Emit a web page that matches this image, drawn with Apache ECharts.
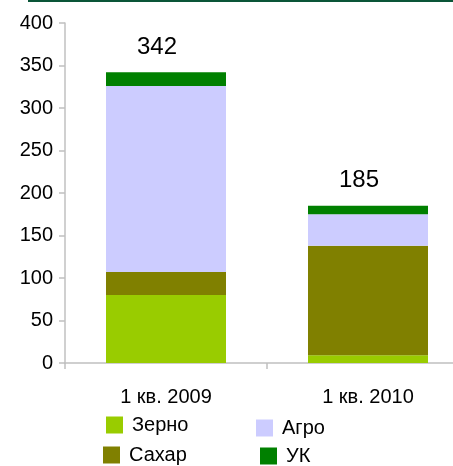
<!DOCTYPE html>
<html>
<head>
<meta charset="utf-8">
<script src="https://cdn.jsdelivr.net/npm/echarts@6/dist/echarts.min.js"></script>
<style>
  html, body { margin: 0; padding: 0; background: #fff; }
  #chart { width: 453px; height: 466px; }
</style>
</head>
<body>
<div id="chart"></div>
<script>
  // data
  var categories = ['1 кв. 2009', '1 кв. 2010']
  var zerno = [80, 9]
  var sakhar = [27, 129]
  var agro = [219, 37]
  var uk = [16, 10]
  var totals = [342, 185]

  var font = 'Liberation Sans, Arial, sans-serif'
  var chart = echarts.init(document.getElementById('chart'))

  function bar(name, data, color) {
    return {
      name: name,
      type: 'bar',
      stack: 'total',
      barWidth: 120,
      itemStyle: { color: color },
      data: data
    }
  }

  // one legend per entry, laid out as in the picture (2 x 2)
  function legendItem(name, left, top) {
    return {
      data: [name],
      icon: 'rect',
      left: left,
      top: top,
      itemWidth: 17,
      itemHeight: 17,
      itemGap: 0,
      padding: 0,
      textStyle: { fontSize: 20, color: '#000', fontFamily: font, padding: [0, 0, 0, 4] }
    }
  }

  var ukSeries = bar('УК', uk, '#008000')
  ukSeries.label = {
    show: true,
    position: 'top',
    offset: [-9, -8],
    fontFamily: font,
    fontSize: 24,
    color: '#000',
    formatter: function (p) { return totals[p.dataIndex] }
  }

  chart.setOption({
    animation: false,
    textStyle: { fontFamily: font },
    graphic: [{
      type: 'rect',
      shape: { x: 28, y: 0, width: 425, height: 2 },
      style: { fill: '#0a5538' }
    }],
    grid: {
      left: 65,
      top: 23,
      width: 404,
      height: 340,
      outerBoundsMode: 'none'
    },
    legend: [
      legendItem('Зерно', 106, 415),
      legendItem('Сахар', 103, 445),
      legendItem('Агро', 256, 418),
      legendItem('УК', 260, 446)
    ],
    xAxis: {
      type: 'category',
      data: categories,
      axisLine: { lineStyle: { color: '#c0c0c0', width: 1.5 } },
      axisTick: { show: true, length: 6, lineStyle: { color: '#c0c0c0', width: 1.5 } },
      axisLabel: { color: '#000', fontSize: 20, fontFamily: font, margin: 24 }
    },
    yAxis: {
      type: 'value',
      min: 0,
      max: 400,
      interval: 50,
      splitLine: { show: false },
      axisLine: { show: true, lineStyle: { color: '#c0c0c0', width: 1.5 } },
      axisTick: { show: true, length: 6, lineStyle: { color: '#c0c0c0', width: 1.5 } },
      axisLabel: { color: '#000', fontSize: 20, fontFamily: font, margin: 12 }
    },
    series: [
      bar('Зерно', zerno, '#99cc00'),
      bar('Сахар', sakhar, '#808000'),
      bar('Агро', agro, '#ccccff'),
      ukSeries
    ]
  })
</script>
</body>
</html>
